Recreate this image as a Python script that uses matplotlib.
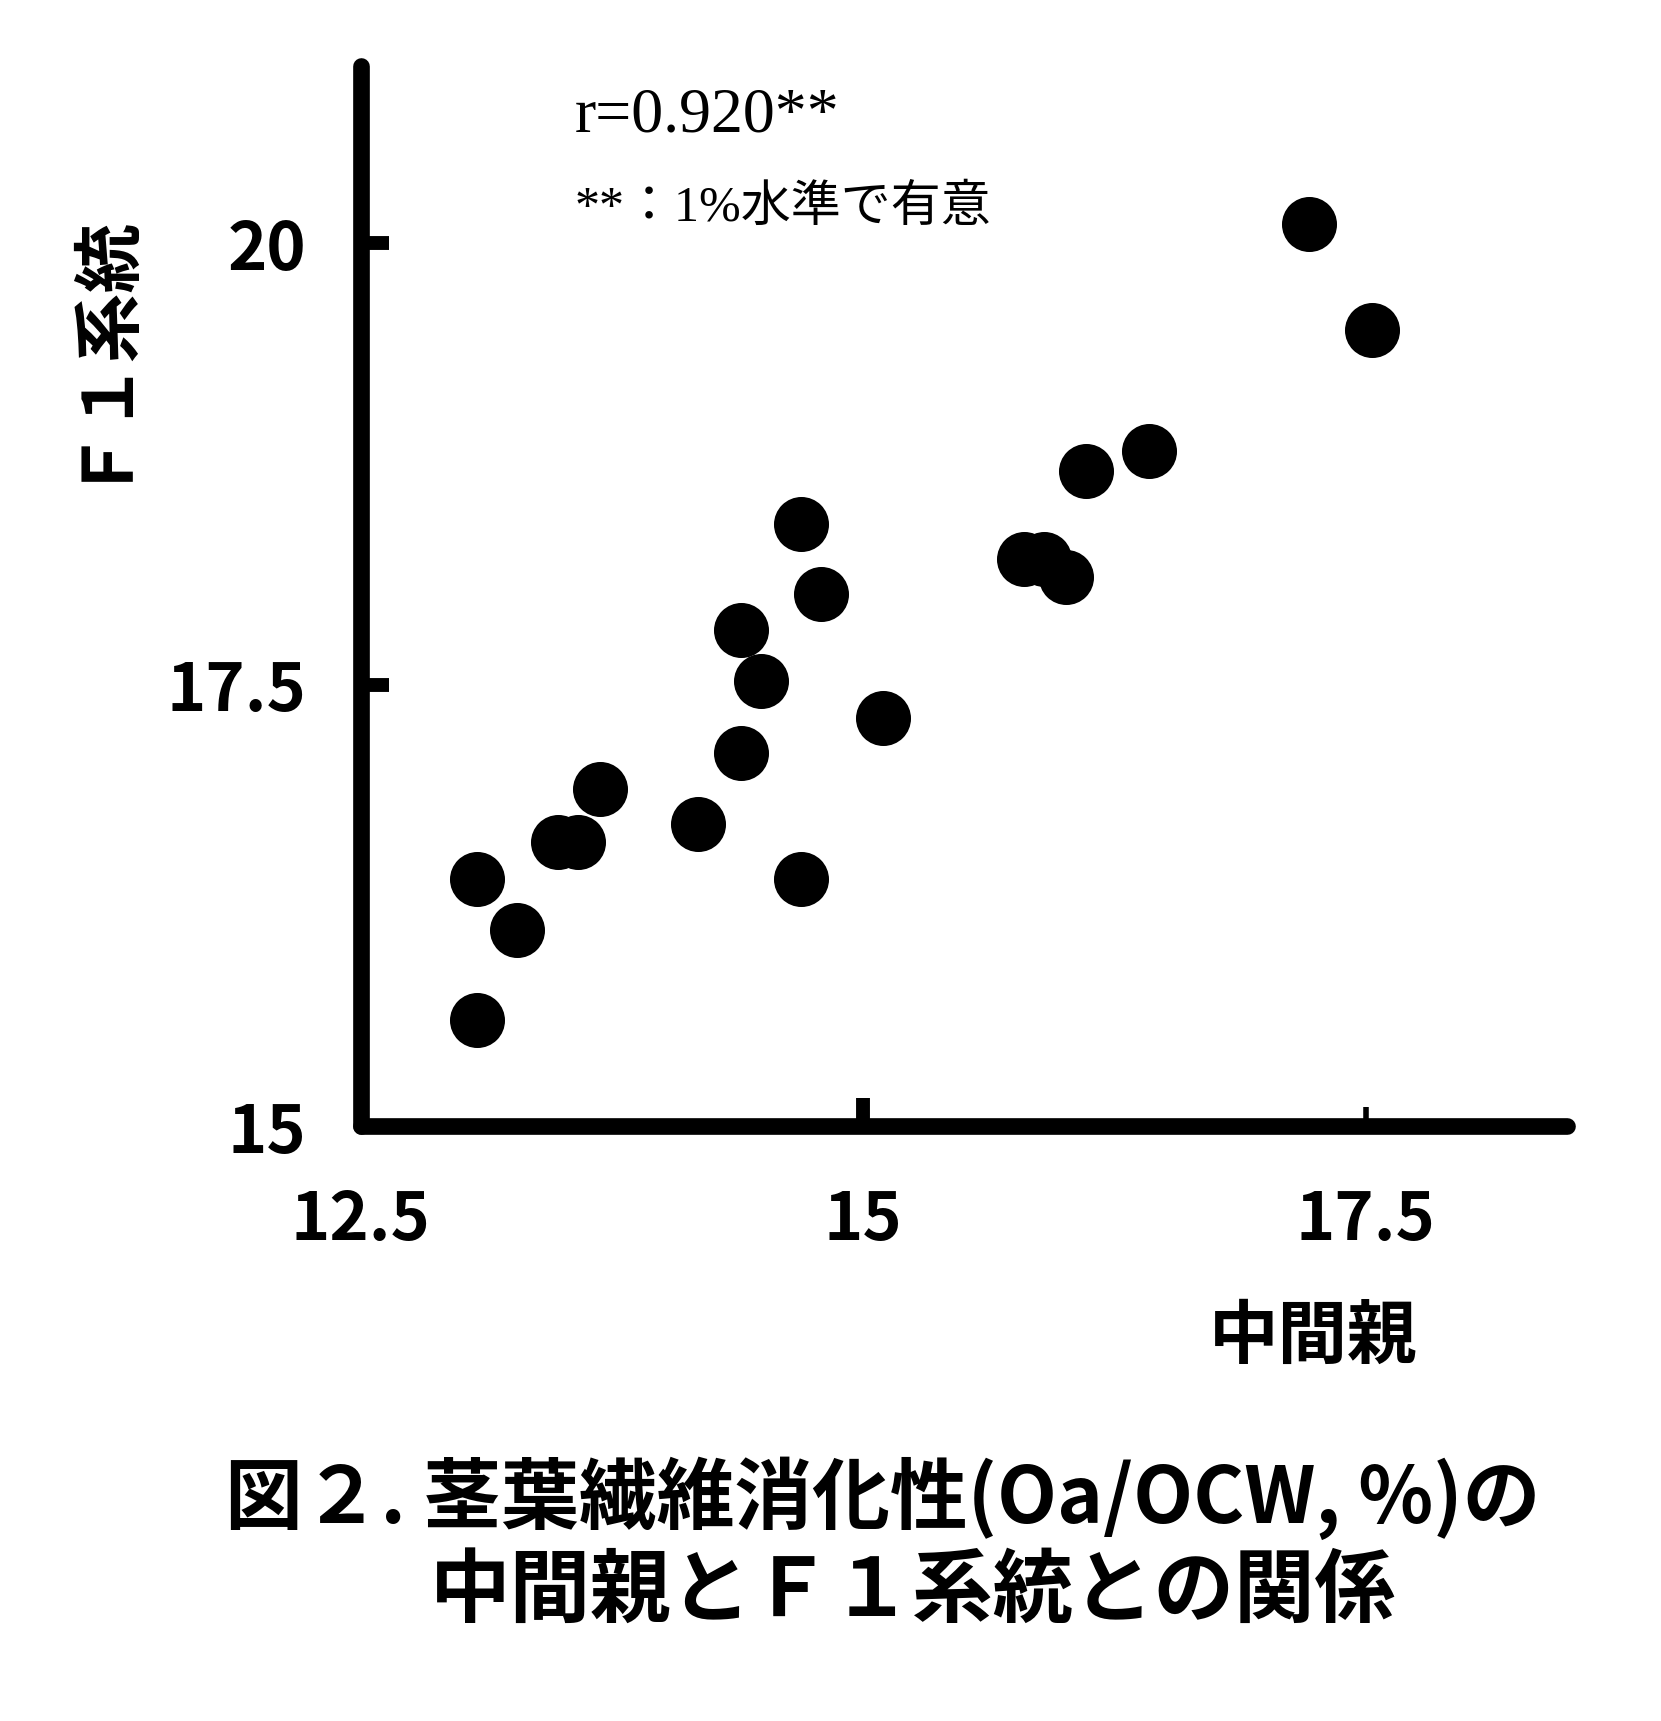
#F1 lines vs mid-parent: fibre digestibility (Oa/OCW, %) scatter plot

import matplotlib
matplotlib.use('Agg')
import matplotlib.pyplot as plt

plt.rcParams['font.family'] = ['Noto Sans CJK JP', 'DejaVu Sans']

#mid-parent value (x) and F1 line value (y)
mid_parent = [17.22, 17.53, 16.42, 16.11, 14.69, 15.80, 15.90, 16.01, 14.79, 14.39, 14.49,
              15.10, 14.39, 13.69, 14.18, 13.48, 13.58, 14.69, 13.08, 13.28, 13.08]
f1_line = [20.11, 19.51, 18.82, 18.71, 18.41, 18.21, 18.21, 18.11, 18.01, 17.81, 17.52,
           17.31, 17.11, 16.91, 16.71, 16.61, 16.61, 16.40, 16.40, 16.11, 15.60]

x_ticks = [12.5, 15, 17.5]
x_ticklabels = ['12.5', '15', '17.5']
y_ticks = [15, 17.5, 20]
y_ticklabels = ['15', '17.5', '20']

W, H = 1661, 1721
fig = plt.figure(figsize=(W/100., H/100.), dpi=100)
ax = fig.add_axes([360.7/W, 595./H, 1206./W, 1059.6/H])

ax.scatter(mid_parent, f1_line, s=1570, c='k', linewidths=0, zorder=3, clip_on=False)

ax.set_xlim(12.5, 18.5)
ax.set_ylim(15, 21)

for side in ['top', 'right']:
    ax.spines[side].set_visible(False)
for side in ['left', 'bottom']:
    ax.spines[side].set_linewidth(12)
    ax.spines[side].set_capstyle('round')

ax.set_xticks(x_ticks)
ax.set_xticklabels(x_ticklabels)
ax.set_yticks(y_ticks)
ax.set_yticklabels(y_ticklabels)
ax.tick_params(axis='both', direction='in', length=20, width=10, labelsize=48)
ax.tick_params(axis='x', pad=44)
ax.tick_params(axis='y', pad=39)
for lab in ax.get_xticklabels() + ax.get_yticklabels():
    lab.set_fontweight('bold')
#the 17.5 tick on the x axis is drawn thinner in the original
t = ax.xaxis.get_major_ticks()[2]
t.tick1line.set_markeredgewidth(4)
t.tick1line.set_markersize(14)

#axis titles
fig.text(94./W, 1-342./H, 'Ｆ１系統', rotation=90, ha='center', va='center',
         fontsize=50, fontweight='bold')
fig.text(1313./W, 1-1338./H, '中間親', ha='center', va='center',
         fontsize=50, fontweight='bold')

#correlation note
fig.text(575./W, 1-132./H, 'r=0.920**', ha='left', va='baseline', fontsize=46,
         family=['Liberation Serif', 'Noto Sans CJK JP'])
fig.text(575./W, 1-221./H, '**：1%水準で有意', ha='left', va='baseline', fontsize=36,
         family=['Liberation Serif', 'Noto Sans CJK JP'])

#figure caption
fig.text(225./W, 1-1498./H, '図２. 茎葉繊維消化性(Oa/OCW, %)の', ha='left', va='center',
         fontsize=56, fontweight='bold')
fig.text(430./W, 1-1592./H, '中間親とＦ１系統との関係', ha='left', va='center',
         fontsize=58, fontweight='bold')

fig.savefig('out.png', dpi=100)
